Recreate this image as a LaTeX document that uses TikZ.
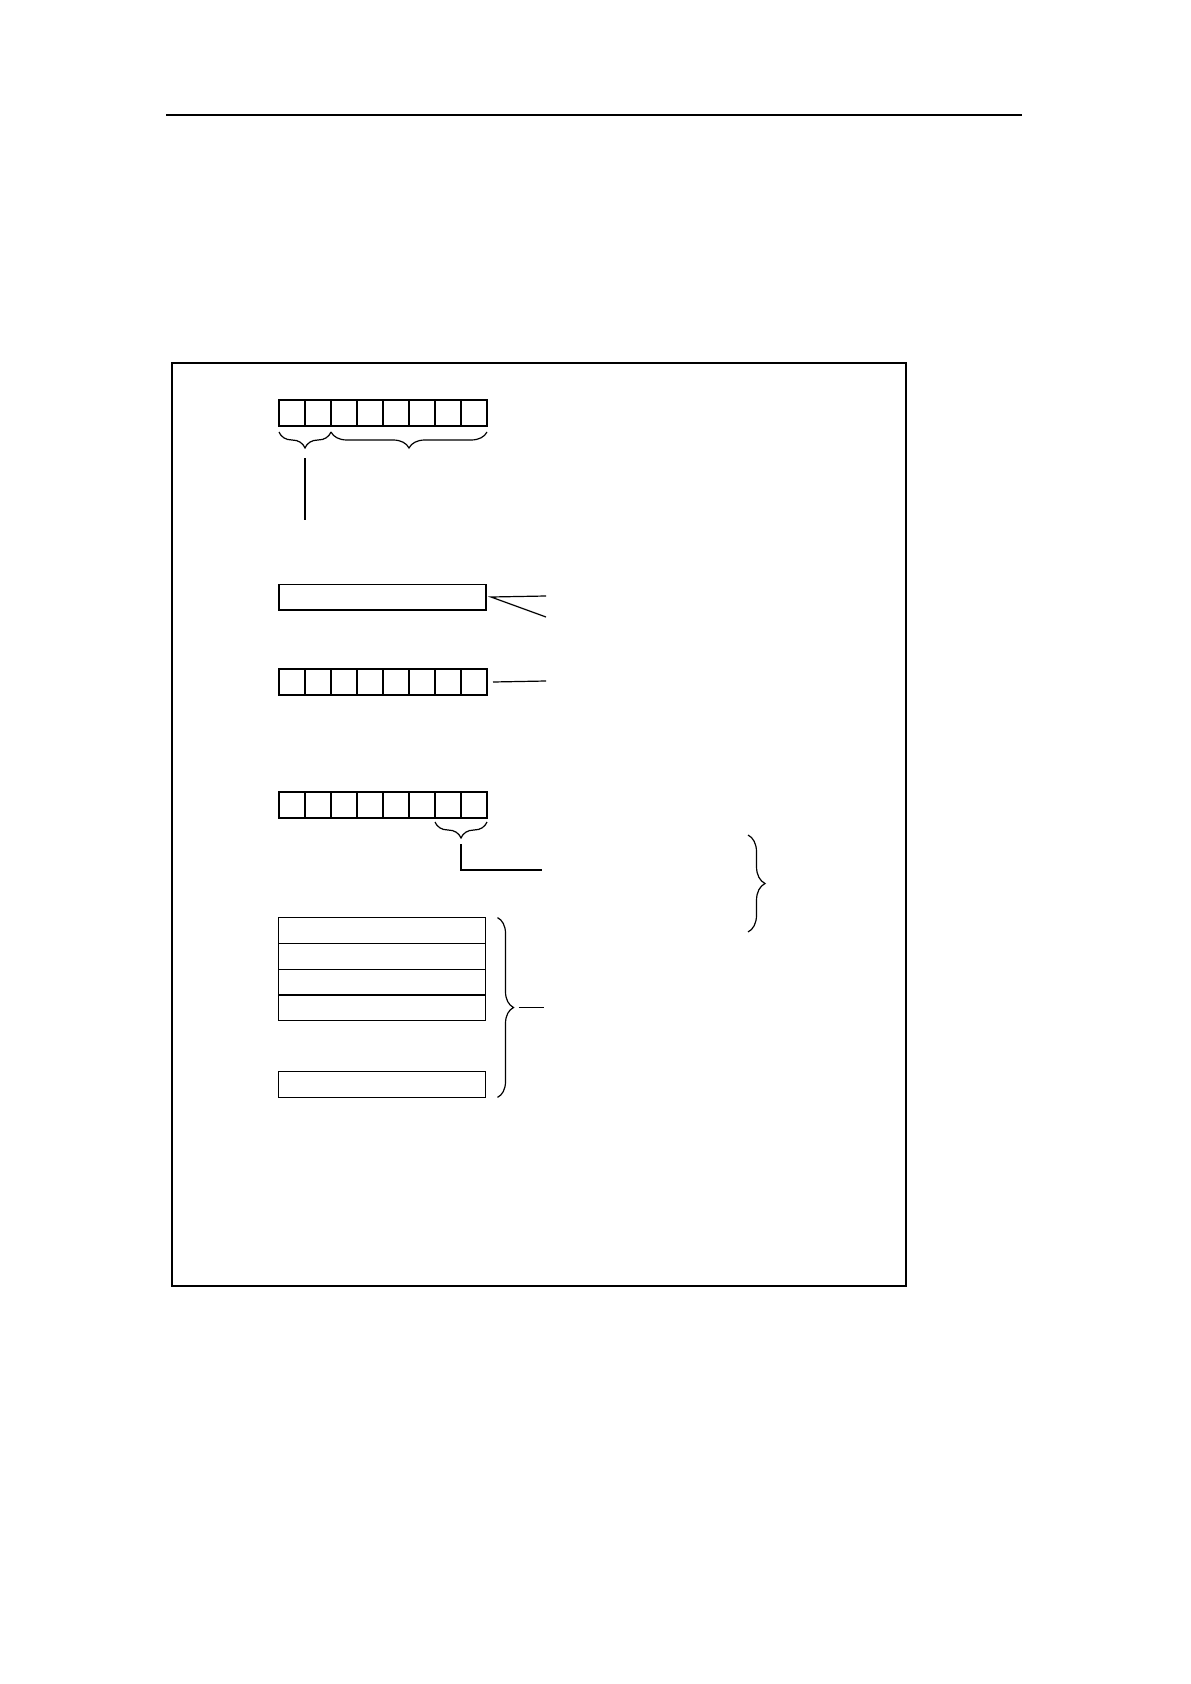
\documentclass[tikz,border=0pt]{standalone}
\usepackage{tikz}
\usetikzlibrary{positioning,calc}
\usetikzlibrary{decorations.pathreplacing}
\tikzset {
    style cell/.style={
        draw=black,
        line width=0.6pt,
        rectangle, % Set the shape as a rectangle
        minimum width=13pt,
        minimum height=13pt,
        inner sep=0pt,
        outer sep=0pt,
    },
    style thick cell/.style={
        style cell,
        line width=1.3pt,
    },
    style bar/.style={
        draw=black,
        line width=0.6pt,
        rectangle, % Set the shape as a rectangle
        minimum width=103.5pt,
        minimum height=12.9pt,
        inner sep=0pt,
        outer sep=0pt,
    },
    style brace/.style={
        decorate,
        decoration={brace, amplitude=8pt},
        line width=0.6pt,
    },
    style lead/.style={
        draw=black,
        line width=0.6pt,
    },
}
\begin{document}
\begin{tikzpicture}[x=0.5pt, y=-0.5pt]
        \fill[white] (0,0) rectangle (1190,1684);
        \draw[line width=0.9pt] (166,115) -- (1022,115);
        \draw[line width=0.6pt] (172,363) rectangle (906,1286);

        % first row of cells
        \foreach \i in {1,...,8}
            \node[style cell] (a\i) at ({266+26*\i}, 413) {};
        \draw[style brace, decoration={mirror}] ([yshift=-3pt]a1.south west) -- ([yshift=-3pt]a2.south east);
        \draw[style brace, decoration={mirror}] ([yshift=-3pt]a3.south west) -- ([yshift=-3pt]a8.south east);
        \coordinate[below=16pt of a1.south east] (atop);
        \coordinate[below=47pt of a1.south east] (aend);
        \draw[style lead] (atop) -- (aend);

        % single bar
        \node[style bar] (b) at (382.5, 597) {};
        \coordinate (bup) at (546, 596);
        \coordinate (bdn) at (546, 617);
        \draw[style lead] (bup) -- ([xshift=2.5pt]b.east) -- (bdn);

        % thick row of cells
        \foreach \i in {1,...,8}
            \node[style thick cell] (c\i) at ({266+26*\i}, 682) {};
        \coordinate (cend) at (546, 681);
        \draw[style lead] ([xshift=3pt]c8.east) -- (cend);

        % fourth row of cells
        \foreach \i in {1,...,8}
            \node[style cell] (d\i) at ({266+26*\i}, 805) {};
        \draw[style brace, decoration={mirror}] ([yshift=-2pt]d7.south west) -- ([yshift=-2pt]d8.south east);
        \coordinate[below=13pt of d7.south east] (dtip);
        \coordinate (dend) at (542, 870);
        \draw[style lead] (dtip) |- (dend);

        \draw[style brace, decoration={amplitude=8.5pt}] (748, 835) -- (748, 932);

        % stack of bars
        \node[style bar] (e1) at (382, 930.5) {};
        \node[style bar] (e2) at (382, 956.2) {};
        \node[style bar] (e3) at (382, 982) {};
        \node[style bar] (e4) at (382, 1007.8) {};
        \node[style bar] (e5) at (382, 1084.5) {};
        \draw[style brace] ([xshift=6pt]e1.north east) -- ([xshift=6pt]e5.south east);
        \coordinate (etip) at ($(e1.north east)!0.5!(e5.south east)+(33,0)$);
        \coordinate (eend) at ($(etip)+(25,0)$);
        \draw[style lead] (etip) -- (eend);
\end{tikzpicture}
\end{document}
